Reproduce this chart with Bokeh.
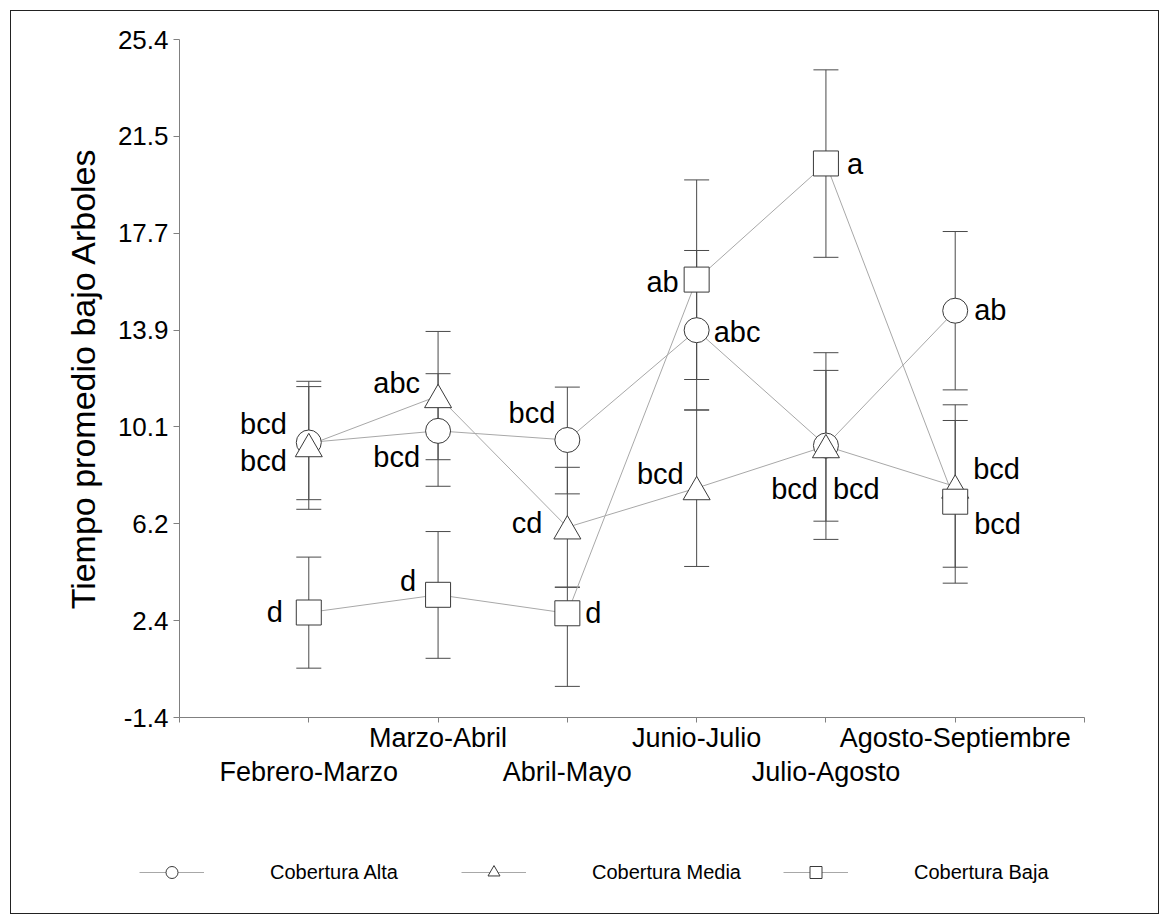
import numpy as np
from bokeh.plotting import figure
from bokeh.layouts import column
from bokeh.models import (ColumnDataSource, Range1d, FixedTicker, LinearAxis,
                          Whisker, TeeHead, Legend, LegendItem)
from bokeh.transform import dodge
from bokeh.core.properties import value
from bokeh.embed import file_html
from bokeh.resources import INLINE

# Periodos de muestreo
periodos = ["Febrero-Marzo", "Marzo-Abril", "Abril-Mayo",
            "Junio-Julio", "Julio-Agosto", "Agosto-Septiembre"]

# Cobertura Alta: media, limite superior e inferior del error
alta_media = [9.47, 9.93, 9.57, 13.91, 9.35, 14.68]
alta_sup = [11.68, 12.19, 11.66, 17.06, 13.02, 17.81]
alta_inf = [7.21, 7.74, 7.44, 10.75, 5.64, 11.55]
alta_letras = ["bcd", "bcd", "bcd", "abc", "bcd", "ab"]

# Cobertura Media
media_media = [9.37, 11.31, 6.12, 7.67, 9.33, 7.73]
media_sup = [11.89, 13.86, 8.49, 10.76, 12.32, 10.96]
media_inf = [6.83, 8.79, 3.75, 4.57, 6.36, 4.54]
media_letras = ["bcd", "abc", "cd", "bcd", "bcd", "bcd"]

# Cobertura Baja
baja_media = [2.75, 3.45, 2.72, 15.91, 20.50, 7.13]
baja_sup = [4.94, 5.95, 3.75, 19.85, 24.20, 10.34]
baja_inf = [0.55, 0.94, -0.17, 11.96, 16.79, 3.91]
baja_letras = ["d", "d", "d", "ab", "a", "bcd"]

# Etiquetas del eje Y
y_etiquetas = ["-1.4", "2.4", "6.2", "10.1", "13.9", "17.7", "21.5", "25.4"]

# Desplazamiento (px) y alineacion de cada letra respecto a su punto
alta_pos = [(-22, -19, "right"), (-18, 26, "right"), (-12, -27, "right"),
            (17, 2, "left"), (-8, 43, "right"), (19, -1, "left")]
media_pos = [(-22, 16, "right"), (-18, -13, "right"), (-25, -4, "right"),
             (-13, -14, "right"), (7, 43, "left"), (18, -18, "left")]
baja_pos = [(-26, -1, "right"), (-22, -14, "right"), (18, 0, "left"),
            (-18, 2, "right"), (21, 1, "left"), (19, 22, "left")]

FONT = "Liberation Sans"
LINE_C = "#a8a8a8"
ERR_C = "#4a4a4a"
MARK_C = "#3a3a3a"
AXIS_C = "#808080"

xs = list(range(1, len(periodos) + 1))

p = figure(width=1169, height=830, output_backend="svg", toolbar_location=None,
           x_range=Range1d(0, 7), y_range=Range1d(-1.4, 25.4),
           x_axis_location=None, y_axis_location=None,
           min_border_left=179, min_border_right=85,
           min_border_top=39, min_border_bottom=113)
p.grid.visible = False
p.outline_line_color = None
p.background_fill_color = "white"
p.border_fill_color = None
p.frame_align = False

# Eje Y
y_ticks = [float(t) for t in np.linspace(-1.4, 25.4, len(y_etiquetas))]
yax = LinearAxis(ticker=FixedTicker(ticks=y_ticks),
                 major_label_overrides={t: s for t, s in zip(y_ticks, y_etiquetas)},
                 axis_label="Tiempo promedio bajo Arboles")
yax.axis_line_color = AXIS_C
yax.major_tick_line_color = AXIS_C
yax.major_tick_out = 6
yax.major_tick_in = 0
yax.minor_tick_line_color = None
yax.major_label_standoff = 5
yax.major_label_text_font = FONT
yax.major_label_text_font_size = "26px"
yax.major_label_text_color = "black"
yax.axis_label_text_font = FONT
yax.axis_label_text_font_size = "34px"
yax.axis_label_text_font_style = "normal"
yax.axis_label_text_color = "black"
yax.axis_label_standoff = 13
p.add_layout(yax, "left")

# Eje X: etiquetas alternadas en dos filas
fila_alta = {0: "", 7: ""}
fila_baja = {}
for i, nombre in zip(xs, periodos):
    if i % 2 == 0:
        fila_alta[i] = nombre
    else:
        fila_alta[i] = ""
        fila_baja[i] = nombre

xax1 = LinearAxis(ticker=FixedTicker(ticks=list(range(0, 8))),
                  major_label_overrides=fila_alta)
xax1.axis_line_color = AXIS_C
xax1.major_tick_line_color = AXIS_C
xax1.major_tick_out = 5
xax1.major_tick_in = 0
xax1.minor_tick_line_color = None
xax1.major_label_standoff = 0
xax1.major_label_text_font = FONT
xax1.major_label_text_font_size = "27px"
xax1.major_label_text_color = "black"
p.add_layout(xax1, "below")

xax2 = LinearAxis(ticker=FixedTicker(ticks=[i for i in xs if i % 2 == 1]),
                  major_label_overrides=fila_baja)
xax2.axis_line_color = None
xax2.major_tick_line_color = None
xax2.major_tick_out = 0
xax2.major_tick_in = 0
xax2.minor_tick_line_color = None
xax2.major_label_standoff = 1
xax2.major_label_text_font = FONT
xax2.major_label_text_font_size = "27px"
xax2.major_label_text_color = "black"
p.add_layout(xax2, "below")

series = [
    ("Cobertura Alta", "circle", alta_media, alta_sup, alta_inf, alta_letras, alta_pos, 0.0, 25),
    ("Cobertura Media", "triangle", media_media, media_sup, media_inf, media_letras, media_pos, -0.154, 27),
    ("Cobertura Baja", "square", baja_media, baja_sup, baja_inf, baja_letras, baja_pos, 0.0, 25),
]

sources = []
for nombre, marker, med, sup, inf, letras, pos, dy, size in series:
    src = ColumnDataSource(dict(
        x=xs, y=med, sup=sup, inf=inf, letra=letras,
        dx=[q[0] for q in pos], dyo=[q[1] for q in pos], al=[q[2] for q in pos]))
    sources.append(src)

for src in sources:
    p.line("x", "y", source=src, line_color=LINE_C, line_width=1)

for src in sources:
    w = Whisker(base="x", upper="sup", lower="inf", source=src, level="underlay",
                line_color=ERR_C, line_width=1,
                upper_head=TeeHead(size=25, line_color=ERR_C, line_width=1),
                lower_head=TeeHead(size=25, line_color=ERR_C, line_width=1))
    p.add_layout(w)

for (nombre, marker, med, sup, inf, letras, pos, dy, size), src in zip(series, sources):
    p.scatter(x="x", y=dodge("y", dy), source=src, marker=marker, size=size,
              fill_color="white", line_color=MARK_C, line_width=1)

for src in sources:
    p.text(x="x", y="y", text="letra", source=src, x_offset="dx", y_offset="dyo",
           text_align="al", text_baseline="alphabetic",
           text_font=value(FONT), text_font_size="29px", text_color="black")

# Franja inferior con la leyenda
pl = figure(width=1169, height=94, output_backend="svg", toolbar_location=None,
            x_range=Range1d(0, 1), y_range=Range1d(0, 1),
            x_axis_location=None, y_axis_location=None,
            min_border_left=0, min_border_right=0,
            min_border_top=0, min_border_bottom=0)
pl.grid.visible = False
pl.outline_line_color = None
pl.background_fill_color = None
pl.border_fill_color = None
pl.frame_align = False

items = []
for nombre, marker, *_ in series:
    vacio = ColumnDataSource(dict(x=[np.nan], y=[np.nan]))
    rl = pl.line("x", "y", source=vacio, line_color=LINE_C, line_width=1)
    rm = pl.scatter("x", "y", source=vacio, marker=marker, size=12,
                    fill_color="white", line_color=MARK_C, line_width=1)
    items.append(LegendItem(label=nombre, renderers=[rl, rm]))

legend = Legend(items=items, orientation="horizontal", location=(139, 37),
                glyph_width=65, glyph_height=30, label_standoff=66,
                label_width=170, spacing=21, padding=0, margin=0,
                border_line_color=None, background_fill_alpha=0,
                label_text_font=FONT, label_text_font_size="20px",
                label_text_color="black")
pl.add_layout(legend)

# Marco exterior alrededor de todo el grafico
layout = column(p, pl, spacing=0,
                styles={"background-color": "white",
                        "box-shadow": "inset 0 0 0 10px white, inset 0 0 0 11px #222222"})

open("out.html", "w").write(file_html(layout, INLINE))
